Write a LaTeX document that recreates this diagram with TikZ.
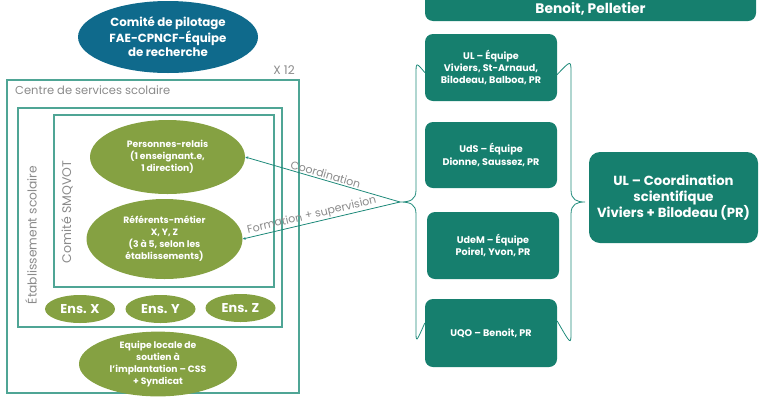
\documentclass[tikz,border=0pt]{standalone}
\usepackage{fontspec}
\setmainfont{Poppins}
\usetikzlibrary{shapes.geometric,arrows.meta}
\definecolor{pilotblue}{HTML}{0F6A8C}
\definecolor{olive}{HTML}{85A142}
\definecolor{tealfill}{HTML}{167F6E}
\definecolor{framecol}{HTML}{4FA595}
\definecolor{linecol}{HTML}{1E8A7A}
\definecolor{graytxt}{HTML}{8A8A8A}
\tikzset{
  frame/.style={draw=framecol, line width=1.3pt},
  gray label/.style={text=graytxt, font=\fontsize{11.5}{13}\selectfont, inner sep=0pt},
  greenell/.style={ellipse, fill=olive, text=white, align=center, inner sep=0pt,
     font=\bfseries\fontsize{9.2}{12}\selectfont},
  ensell/.style={ellipse, fill=olive, text=white, inner sep=0pt,
     minimum width=70pt, minimum height=28pt, font=\bfseries\fontsize{12.8}{14}\selectfont},
  teambox/.style={rectangle, rounded corners=8pt, fill=tealfill, text=white, align=center,
     inner sep=0pt, font=\bfseries\fontsize{9.6}{12.3}\selectfont},
  connector/.style={draw=linecol, line width=0.8pt},
  brace/.style={draw=linecol, line width=0.8pt},
  linelabel/.style={text=graytxt, font=\fontsize{11}{12}\selectfont, inner sep=1pt},
}
\begin{document}
\begin{tikzpicture}[x=1pt,y=-1pt]
\useasboundingbox (0,0) rectangle (759,397);

% top ellipse
\node (pilot) [ellipse, fill=pilotblue, text=white, align=center, inner sep=0pt,
  minimum width=180pt, minimum height=72pt, font=\bfseries\fontsize{11.8}{14}\selectfont]
  at (168,37) {Comité de pilotage\\FAE-CPNCF-Équipe\\de recherche};

\node (x12) [gray label, font=\fontsize{12}{13}\selectfont] at (284,70) {X 12};

% frames
\draw[frame] (7,80) rectangle (299,393);
\draw[frame] (18,108) rectangle (282,327);
\draw[frame] (54,115) rectangle (274,287);

\node (css) [gray label, anchor=west] at (15,90) {Centre de services scolaire};
\node (etab) [gray label, rotate=90, font=\fontsize{12.3}{13}\selectfont] at (31,235) {Établissement scolaire};
\node (smq) [gray label, rotate=90, font=\fontsize{12.5}{13}\selectfont] at (67,212) {Comité SMQVOT};

% green ellipses
\node (relais) [greenell, minimum width=155pt, minimum height=74pt] at (167.5,157)
  {Personnes-relais\\(1 enseignant.e,\\1 direction)};
\node (ref) [greenell, minimum width=156pt, minimum height=80pt] at (164.5,239)
  {Référents-métier\\X, Y, Z\\(3 à 5, selon les\\établissements)};
\node (ensx) [ensell] at (80,309) {Ens. X};
\node (ensy) [ensell] at (160.5,309) {Ens. Y};
\node (ensz) [ensell] at (240.5,308) {Ens. Z};
\node (locale) [greenell, minimum width=158pt, minimum height=48pt] at (158,364)
  {Equipe locale de\\soutien à\\l’implantation – CSS\\+ Syndicat};

% right side boxes
\node (top) [teambox, anchor=base, minimum width=331pt, text height=40pt, text depth=3pt,
  inner ysep=5pt, font=\bfseries\fontsize{13.8}{15}\selectfont] at (590.5,13) {Benoit, Pelletier};
\node (ul) [teambox, minimum width=132pt, minimum height=67pt] at (491,67.5)
  {UL – Équipe\\Viviers, St-Arnaud,\\Bilodeau, Balboa, PR};
\node (uds) [teambox, minimum width=132pt, minimum height=66pt] at (491,155)
  {UdS – Équipe\\Dionne, Saussez, PR};
\node (udem) [teambox, minimum width=132pt, minimum height=67pt] at (493,245.5)
  {UdeM – Équipe\\Poirel, Yvon, PR};
\node (uqo) [teambox, minimum width=132pt, minimum height=68pt] at (491,333)
  {UQO – Benoit, PR};
\node (coord) [teambox, rounded corners=11pt, minimum width=169pt, minimum height=91pt,
  font=\bfseries\fontsize{13.2}{16}\selectfont] at (673.5,197.5)
  {UL – Coordination\\scientifique\\Viviers + Bilodeau (PR)};

% braces
\coordinate (tip) at (400,202);
\coordinate (rtip) at (585,202);
\draw[brace] ([yshift=-5pt]ul.west) .. controls (416,62) .. (416,75) -- (416,190)
  .. controls (416,200) and (410,202) .. (tip)
  .. controls (410,202) and (416,204) .. (416,214) -- (416,330)
  .. controls (416,343) .. ([yshift=10pt]uqo.west);
\draw[brace] ([yshift=-7pt]ul.east) .. controls (571,60) .. (571,73) -- (571,190)
  .. controls (571,200) and (577,202) .. (rtip)
  .. controls (577,202) and (571,204) .. (571,214) -- (571,332)
  .. controls (571,345) .. ([yshift=12pt]uqo.east);

% connectors
\draw[connector, -{Stealth[length=3pt,width=2.6pt]}] (tip) -- (relais.east)
  node[pos=0.49, sloped, above, linelabel] {Coordination};
\draw[connector, -{Stealth[length=3pt,width=2.6pt]}] (tip) -- (ref.east)
  node[pos=0.55, sloped, above, linelabel] {Formation + supervision};
\end{tikzpicture}
\end{document}
